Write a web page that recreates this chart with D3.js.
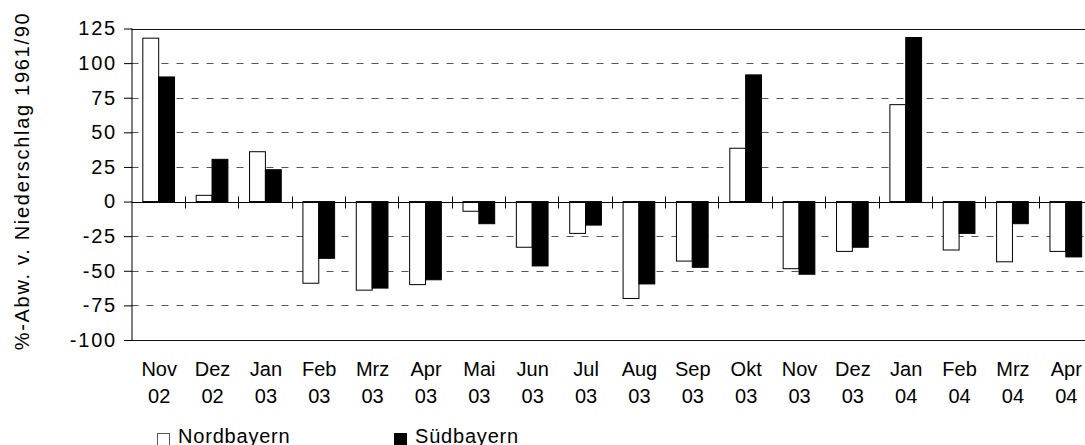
<!DOCTYPE html>
<html>
<head>
<meta charset="utf-8">
<script src="https://cdn.jsdelivr.net/npm/d3@7"></script>
<style>
  body { margin: 0; background: #fff; }
  svg { display: block; font-family: "Liberation Sans", Arial, sans-serif; }
</style>
</head>
<body>
<svg width="1085" height="445"></svg>
<script>
// data
var categories = ["Nov 02", "Dez 02", "Jan 03", "Feb 03", "Mrz 03", "Apr 03", "Mai 03", "Jun 03", "Jul 03",
                  "Aug 03", "Sep 03", "Okt 03", "Nov 03", "Dez 03", "Jan 04", "Feb 04", "Mrz 04", "Apr 04"];
var seriesNames = ["Nordbayern", "Südbayern"];
var nordbayern = [118, 4.5, 36, -59, -64, -60, -7, -33, -23, -70, -43, 38.5, -48.5, -36, 70, -35, -43.5, -36];
var suedbayern = [90, 30.5, 23, -41, -62.5, -56.5, -16, -46.5, -17, -59.5, -47.5, 91.5, -52.5, -33, 118.5, -23, -16, -40];
var yTicks = [125, 100, 75, 50, 25, 0, -25, -50, -75, -100];
var seriesColors = ["#fff", "#000"];

var svg = d3.select("svg");
var plotLeft = 131.5, plotRight = 1092, plotTop = 28.5, plotBottom = 340;

var x = d3.scaleBand().domain(categories).range([plotLeft, plotRight]).padding(0);
var x1 = d3.scaleBand().domain(seriesNames).range([0, x.bandwidth()])
    .paddingInner(0).paddingOuter(0.683);
var y = d3.scaleLinear().domain([-100, 125]).range([plotBottom, plotTop]);

// dashed grid
svg.append("g")
    .selectAll("line")
    .data(yTicks.filter(function (d) { return d != 0 && d != 125 && d != -100; }))
    .enter().append("line")
    .attr("x1", plotLeft).attr("x2", 1085)
    .attr("y1", function (d) { return Math.round(y(d)) + 0.5; })
    .attr("y2", function (d) { return Math.round(y(d)) + 0.5; })
    .attr("stroke", "#555")
    .attr("stroke-dasharray", "7,8");

// top and bottom frame lines
[125, -100].forEach(function (v) {
    svg.append("line")
        .attr("x1", plotLeft).attr("x2", 1085)
        .attr("y1", Math.round(y(v)) + 0.5).attr("y2", Math.round(y(v)) + 0.5)
        .attr("stroke", "#111");
});

// bars
var data = categories.map(function (c, i) {
    return {cat: c, vals: [nordbayern[i], suedbayern[i]]};
});
var groups = svg.append("g").selectAll("g")
    .data(data)
    .enter().append("g")
    .attr("transform", function (d) { return "translate(" + x(d.cat) + ",0)"; });

groups.selectAll("rect")
    .data(function (d) {
        return d.vals.map(function (v, j) { return {name: seriesNames[j], v: v, j: j}; });
    })
    .enter().append("rect")
    .attr("x", function (d) { return x1(d.name) + 0.5; })
    .attr("width", x1.bandwidth())
    .attr("y", function (d) { return y(Math.max(0, d.v)); })
    .attr("height", function (d) { return Math.abs(y(d.v) - y(0)); })
    .attr("fill", function (d) { return seriesColors[d.j]; })
    .attr("stroke", "#000")
    .attr("stroke-width", 1);

// zero line with category ticks
var zy = Math.round(y(0)) + 0.5;
svg.append("line")
    .attr("x1", plotLeft).attr("x2", 1085)
    .attr("y1", zy).attr("y2", zy)
    .attr("stroke", "#000");
svg.append("g").selectAll("line")
    .data(categories.slice(1))
    .enter().append("line")
    .attr("x1", function (d) { return Math.round(x(d)) + 0.5; })
    .attr("x2", function (d) { return Math.round(x(d)) + 0.5; })
    .attr("y1", zy - 6).attr("y2", zy + 6)
    .attr("stroke", "#000");

// y axis
var yAxis = svg.append("g")
    .attr("transform", "translate(" + (plotLeft + 0.5) + ",0)")
    .call(d3.axisLeft(y).tickValues(yTicks).tickSize(8).tickPadding(7)
        .tickFormat(function (d) { return String(d); }));
yAxis.select(".domain").attr("stroke", "#000").attr("d", "M0," + y(125) + "V" + y(-100));
yAxis.selectAll(".tick line").attr("stroke", "#000");
yAxis.selectAll(".tick text")
    .attr("font-size", 20)
    .attr("letter-spacing", "1.8px")
    .attr("fill", "#000")
    .attr("font-family", "Liberation Sans, Arial, sans-serif");

// x labels
var xl = svg.append("g").selectAll("text")
    .data(categories)
    .enter().append("text")
    .attr("text-anchor", "middle")
    .attr("font-size", 20)
    .attr("x", function (d) { return x(d) + x.bandwidth() / 2 + 1; });
xl.append("tspan")
    .attr("x", function (d) { return x(d) + x.bandwidth() / 2 + 1; })
    .attr("y", 376)
    .text(function (d) { return d.split(" ")[0]; });
xl.append("tspan")
    .attr("x", function (d) { return x(d) + x.bandwidth() / 2 + 1; })
    .attr("y", 402.5)
    .text(function (d) { return d.split(" ")[1]; });

// y axis title
svg.append("text")
    .attr("transform", "translate(29," + 181 + ") rotate(-90)")
    .attr("text-anchor", "middle")
    .attr("font-size", 20)
    .attr("letter-spacing", "1.7px")
    .text("%-Abw. v. Niederschlag 1961/90");

// legend
var legendX = [157, 394];
var leg = svg.append("g").selectAll("g")
    .data(seriesNames)
    .enter().append("g")
    .attr("transform", function (d, i) { return "translate(" + legendX[i] + ",433)"; });
leg.append("rect")
    .attr("x", 0.5).attr("y", 0.5)
    .attr("width", 12).attr("height", 12)
    .attr("fill", function (d, i) { return seriesColors[i]; })
    .attr("stroke", function (d, i) { return i == 0 ? "#555" : "#000"; });
leg.append("text")
    .attr("x", 21).attr("y", 9.7)
    .attr("font-size", 20)
    .attr("letter-spacing", "0.8px")
    .text(function (d) { return d; });
</script>
</body>
</html>
